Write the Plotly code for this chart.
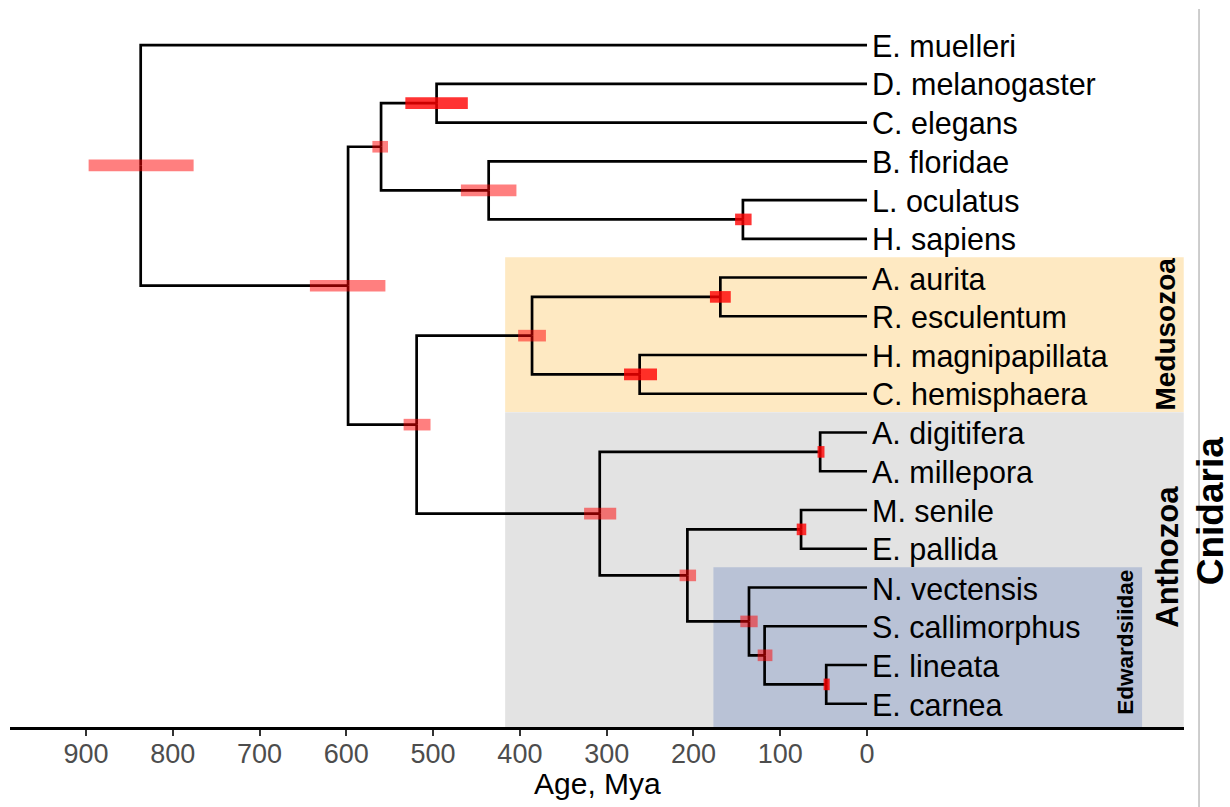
import plotly.graph_objects as go

# ---- tips, top to bottom ----
tips = ["E. muelleri", "D. melanogaster", "C. elegans", "B. floridae",
        "L. oculatus", "H. sapiens", "A. aurita", "R. esculentum",
        "H. magnipapillata", "C. hemisphaera", "A. digitifera", "A. millepora",
        "M. senile", "E. pallida", "N. vectensis", "S. callimorphus",
        "E. lineata", "E. carnea"]

# ---- internal nodes: children, age (Mya) and 95% interval ----
node_ids = ["Root", "Planulozoa", "Bilateria", "Protostomia", "Deuterostomia",
            "Vertebrata", "Cnidaria", "Medusozoa", "Scyphozoa", "Hydrozoa",
            "Anthozoa", "Acropora", "Actiniaria", "Metridioidea",
            "Edwardsiidae", "Edwardsiinae", "Edwardsia"]
node_left = ["E. muelleri", "Bilateria", "Protostomia", "D. melanogaster",
             "B. floridae", "L. oculatus", "Medusozoa", "Scyphozoa",
             "A. aurita", "H. magnipapillata", "Acropora", "A. digitifera",
             "Metridioidea", "M. senile", "N. vectensis", "S. callimorphus",
             "E. lineata"]
node_right = ["Planulozoa", "Cnidaria", "Deuterostomia", "C. elegans",
              "Vertebrata", "H. sapiens", "Anthozoa", "Hydrozoa",
              "R. esculentum", "C. hemisphaera", "Actiniaria", "A. millepora",
              "Edwardsiidae", "E. pallida", "Edwardsiinae", "Edwardsia",
              "E. carnea"]
node_age = [837, 598, 560, 496, 436, 143, 519, 386, 169, 262,
            308, 54, 207, 76, 136, 118, 47]
ci_old = [897, 642, 570, 532, 468, 152, 534, 402, 181, 280,
          326, 57, 216, 81, 146, 126, 50]
ci_young = [776, 555, 552, 460, 404, 133, 503, 370, 157, 242,
            289, 49, 197, 70, 126, 109, 43]

# ---- highlighted clades ----
clade_names = ["Medusozoa", "Anthozoa", "Edwardsiidae"]
clade_first_tip = ["A. aurita", "A. digitifera", "N. vectensis"]
clade_last_tip = ["C. hemisphaera", "E. carnea", "E. carnea"]
clade_from_age = [417, 417, 177]
clade_to_age = [-365, -365, -317]

age_ticks = [900, 800, 700, 600, 500, 400, 300, 200, 100, 0]

# ---- styling ----
clade_fill = {"Medusozoa": "#fee9c2", "Anthozoa": "#e3e3e3",
              "Edwardsiidae": "#b9c2d6"}
strong_ci = {"Protostomia", "Vertebrata", "Scyphozoa", "Hydrozoa",
             "Acropora", "Metridioidea", "Edwardsia"}
X_MAX, X_MIN = 987.6, -365.3
Y_MIN, Y_MAX = 0.40, 18.93
FONT = "Liberation Sans, Arial, Helvetica, sans-serif"

# ---- layout of the tree (ggtree-style rectangular) ----
n = len(tips)
ypos = {t: n - i for i, t in enumerate(tips)}
age = {t: 0.0 for t in tips}
children = dict(zip(node_ids, zip(node_left, node_right)))
age.update(dict(zip(node_ids, node_age)))


def place(node):
    if node in ypos:
        return ypos[node]
    a, b = children[node]
    ypos[node] = (place(a) + place(b)) / 2
    return ypos[node]


place("Root")

bx, by = [], []
for nid in node_ids:
    for ch in children[nid]:
        bx += [age[nid], age[nid], age[ch], None]
        by += [ypos[nid], ypos[ch], ypos[ch], None]

fig = go.Figure()

fig.add_trace(go.Scatter(x=bx, y=by, mode="lines",
                         line=dict(color="black", width=2.7),
                         hoverinfo="skip", showlegend=False))

shapes = []
for name, first, last, a0, a1 in zip(clade_names, clade_first_tip,
                                     clade_last_tip, clade_from_age,
                                     clade_to_age):
    top = ypos[first] + 0.52
    bottom = ypos[last] - 0.47 if ypos[last] > 1 else Y_MIN
    shapes.append(dict(type="rect", xref="x", yref="y", x0=a0, x1=a1,
                       y0=bottom, y1=top, fillcolor=clade_fill[name],
                       line=dict(width=0), layer="below"))

half = 0.15
for nid, lo, hi in zip(node_ids, ci_young, ci_old):
    alpha = 0.8 if nid in strong_ci else 0.5
    shapes.append(dict(type="rect", xref="x", yref="y", x0=hi, x1=lo,
                       y0=ypos[nid] - half, y1=ypos[nid] + half,
                       fillcolor=f"rgba(255,0,0,{alpha})",
                       line=dict(width=0), layer="above"))

# divider beside the outer clade label
shapes.append(dict(type="line", xref="paper", yref="paper", x0=1.0128,
                   x1=1.0128, y0=1.0, y1=-0.12,
                   line=dict(color="#bdbdbd", width=1.5)))

# tip labels
annotations = [
    dict(text=t, x=age[t], y=ypos[t], xref="x", yref="y", xanchor="left",
         yanchor="middle", xshift=3, yshift=-1, showarrow=False,
         font=dict(family=FONT, size=30.5, color="black"))
    for t in tips
]


def side_label(text, x, y, size, ref="data"):
    d = dict(text=f"<b>{text}</b>", x=x, y=y, textangle=-90,
             showarrow=False, xanchor="center", yanchor="middle",
             font=dict(family=FONT, size=size, color="black"))
    if ref == "data":
        d.update(xref="x", yref="y")
    else:
        d.update(xref="paper", yref="paper")
    return d


annotations += [
    side_label("Medusozoa", -344, 10.54, 28),
    side_label("Anthozoa", -346, 4.8, 31),
    side_label("Edwardsiidae", -297, 2.59, 22.5),
    side_label("Cnidaria", 1.0225, 0.301, 37, ref="paper"),
    # axis title
    dict(text="Age, Mya", x=0.5, y=-0.078, xref="paper", yref="paper",
         xanchor="center", yanchor="middle", showarrow=False,
         font=dict(family=FONT, size=30, color="black")),
]

fig.update_layout(
    width=1230, height=807,
    margin=dict(l=10, r=46, t=9, b=80),
    paper_bgcolor="white", plot_bgcolor="white",
    shapes=shapes, annotations=annotations,
    xaxis=dict(range=[X_MAX, X_MIN], tickvals=age_ticks,
               ticktext=[str(v) for v in age_ticks],
               ticks="outside", ticklen=6, tickwidth=2, tickcolor="#333333",
               ticklabelstandoff=-5,
               showline=True, linecolor="black", linewidth=3,
               showgrid=False, zeroline=False,
               tickfont=dict(family=FONT, size=27, color="#4d4d4d")),
    yaxis=dict(range=[Y_MIN, Y_MAX], visible=False),
)

fig.write_html("out.html")
